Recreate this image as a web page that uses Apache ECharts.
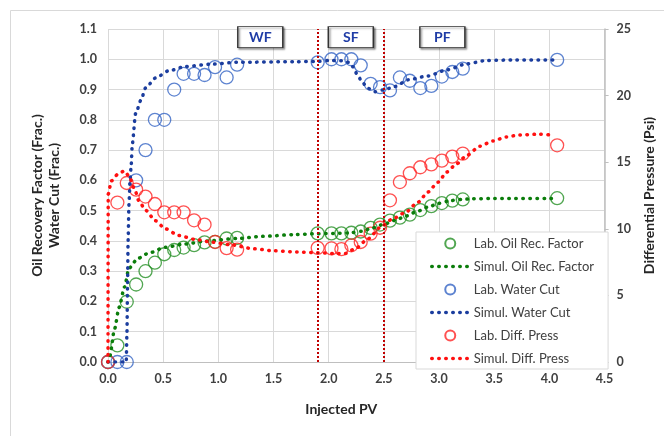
<!DOCTYPE html>
<html><head><meta charset="utf-8">
<script src="https://cdn.jsdelivr.net/npm/echarts@6/dist/echarts.min.js"></script>
<style>html,body{margin:0;padding:0;background:#fff}#c{width:664px;height:436px}</style>
</head><body><div id="c"></div>
<script>
// ---- Data ----
const seriesNames = ['Lab. Oil Rec. Factor','Simul. Oil Rec. Factor','Lab. Water Cut','Simul. Water Cut','Lab. Diff. Press','Simul. Diff. Press'];
const labPV  = [0, 0.085, 0.17, 0.255, 0.34, 0.425, 0.51, 0.6, 0.685, 0.78, 0.875, 0.97, 1.075, 1.17, 1.9, 2.025, 2.115, 2.205, 2.29, 2.38, 2.465, 2.555, 2.645, 2.735, 2.83, 2.93, 3.025, 3.12, 3.215, 4.07];
const labOil = [0, 0.055, 0.199, 0.256, 0.30, 0.328, 0.356, 0.37, 0.378, 0.386, 0.395, 0.397, 0.408, 0.41, 0.425, 0.425, 0.425, 0.427, 0.431, 0.443, 0.454, 0.467, 0.477, 0.487, 0.502, 0.515, 0.525, 0.533, 0.537, 0.541];
const labWC  = [0, 0, 0, 0.60, 0.70, 0.80, 0.80, 0.90, 0.952, 0.952, 0.948, 0.974, 0.94, 0.982, 0.99, 1.0, 1.0, 1.0, 0.98, 0.919, 0.908, 0.897, 0.94, 0.929, 0.905, 0.912, 0.943, 0.958, 0.969, 0.998];
const labDP  = [0, 11.97, 13.44, 12.94, 12.42, 11.86, 11.24, 11.24, 11.24, 10.64, 10.31, 9.01, 8.55, 8.44, 8.57, 8.53, 8.47, 8.76, 9.01, 9.64, 10.08, 12.14, 13.51, 14.17, 14.62, 14.84, 15.12, 15.42, 15.64, 16.27];

const simOilPV = [0, 0.015, 0.06, 0.10, 0.15, 0.19, 0.27, 0.37, 0.52, 0.70, 0.9, 1.17, 1.4, 1.7, 1.9, 2.1, 2.2, 2.3, 2.4, 2.5, 2.6, 2.7, 2.8, 2.9, 3.0, 3.1, 3.2, 3.3, 3.5, 4.05];
const simOil   = [0, 0.017, 0.11, 0.18, 0.248, 0.31, 0.342, 0.36, 0.379, 0.39, 0.40, 0.408, 0.415, 0.421, 0.424, 0.425, 0.427, 0.432, 0.443, 0.455, 0.468, 0.482, 0.497, 0.512, 0.524, 0.533, 0.537, 0.539, 0.54, 0.54];

const simWCPV = [0, 0.165, 0.172, 0.177, 0.182, 0.19, 0.2, 0.21, 0.22, 0.25, 0.3, 0.34, 0.43, 0.55, 0.7, 0.94, 1.17, 1.7, 1.9, 2.0, 2.12, 2.18, 2.22, 2.26, 2.3, 2.35, 2.42, 2.5, 2.6, 2.72, 2.9, 3.07, 3.25, 3.43, 3.7, 4.05];
const simWC   = [0, 0, 0.1, 0.25, 0.4, 0.52, 0.6, 0.65, 0.72, 0.82, 0.866, 0.905, 0.938, 0.962, 0.976, 0.984, 0.99, 0.992, 0.993, 0.996, 0.995, 0.99, 0.975, 0.949, 0.927, 0.905, 0.893, 0.899, 0.91, 0.932, 0.945, 0.965, 0.985, 0.996, 0.998, 0.998];

const simDPPV = [0, 0.002, 0.03, 0.09, 0.15, 0.19, 0.24, 0.28, 0.34, 0.43, 0.52, 0.64, 0.79, 0.94, 1.11, 1.32, 1.5, 1.71, 1.9, 2.05, 2.15, 2.24, 2.36, 2.466, 2.57, 2.69, 2.81, 2.9, 2.99, 3.07, 3.16, 3.25, 3.37, 3.49, 3.61, 3.73, 3.91, 4.04];
const simDP   = [0, 12.6, 13.6, 14.1, 14.35, 13.95, 13.0, 12.1, 11.4, 10.6, 10.0, 9.5, 9.2, 9.0, 8.8, 8.5, 8.35, 8.26, 8.2, 8.15, 8.15, 8.5, 9.26, 10.1, 10.7, 11.2, 12.0, 12.76, 13.5, 14.26, 14.89, 15.5, 16.2, 16.6, 16.9, 17.05, 17.1, 17.02];

const phaseBounds = [1.9, 2.5];
const phaseNames = ['WF', 'SF', 'PF'];
const phaseLabelAt = [[1.38, 1.073], [2.2, 1.073], [3.03, 1.073]];

const xTicks = {min: 0, max: 4.5, step: 0.5};
const yLeftTicks = {min: 0, max: 1.1, step: 0.1};
const yRightTicks = {min: 0, max: 25, step: 5};

// ---- Helpers ----
const zip = (xs, ys) => xs.map((x, i) => [x, ys[i]]);
const FONT = 'Lato, "Open Sans", sans-serif';
const C = {
  oilLab: '#259025', oilSim: '#0b7d0b',
  wcLab: '#3464c4', wcSim: '#1b3d9e',
  dpLab: '#ff2626', dpSim: '#ff1010',
  phase: '#c00000'
};
const dotted = (color) => ({color, width: 3.5, type: [0.5, 6.5], cap: 'round'});
const lab = (name, data, color, yIdx) => ({
  name, type: 'scatter', yAxisIndex: yIdx, data, symbol: 'circle', symbolSize: 13,
  itemStyle: {color: 'rgba(255,255,255,0)', borderColor: color, borderWidth: 1.3},
  emphasis: {disabled: true}, z: 3
});
const sim = (name, data, color, yIdx) => ({
  name, type: 'line', yAxisIndex: yIdx, data, symbol: 'none', showSymbol: false,
  smooth: 0.25, smoothMonotone: 'x',
  lineStyle: dotted(color), itemStyle: {color}, emphasis: {disabled: true}, z: 4
});

const axisLabel = {fontFamily: FONT, fontWeight: 'bold', fontSize: 12.5, color: '#404040'};

const option = {
  animation: false,
  backgroundColor: '#fff',
  graphic: [{
    type: 'rect', shape: {x: 10.5, y: 10.5, width: 700, height: 500},
    style: {fill: 'none', stroke: '#d9d9d9', lineWidth: 1}, z: -10, silent: true
  }],
  grid: {left: 108, right: 51, top: 29, bottom: 74},
  xAxis: {
    type: 'value', min: xTicks.min, max: xTicks.max, interval: xTicks.step,
    axisLine: {show: true, lineStyle: {color: '#bfbfbf'}},
    axisTick: {show: false},
    splitLine: {show: true, lineStyle: {color: '#d9d9d9', width: 1}},
    axisLabel: Object.assign({margin: 10, formatter: v => v.toFixed(1)}, axisLabel),
    name: 'Injected PV', nameLocation: 'middle', nameGap: 40,
    nameTextStyle: {fontFamily: FONT, fontWeight: 'bold', fontSize: 14, color: '#262626', padding: [0, 30, 0, 0]}
  },
  yAxis: [{
    type: 'value', min: yLeftTicks.min, max: yLeftTicks.max, interval: yLeftTicks.step,
    axisLine: {show: false}, axisTick: {show: false},
    splitLine: {show: true, lineStyle: {color: '#d9d9d9', width: 1}},
    axisLabel: Object.assign({margin: 11, formatter: v => v.toFixed(1)}, axisLabel),
    name: 'Oil Recovery Factor (Frac.)\nWater Cut (Frac.)', nameLocation: 'middle', nameRotate: 90, nameGap: 45,
    nameTextStyle: {fontFamily: FONT, fontWeight: 'bold', fontSize: 14, color: '#262626', lineHeight: 17, align: 'center'}
  }, {
    type: 'value', position: 'right', min: yRightTicks.min, max: yRightTicks.max, interval: yRightTicks.step,
    axisLine: {show: true, lineStyle: {color: '#bfbfbf', width: 1.5}},
    axisTick: {show: true, inside: false, length: 4, lineStyle: {color: '#bfbfbf'}},
    splitLine: {show: false},
    axisLabel: Object.assign({margin: 12}, axisLabel),
    name: 'Differential Pressure (Psi)', nameLocation: 'middle', nameRotate: 90, nameGap: 30,
    nameTextStyle: {fontFamily: FONT, fontWeight: 'bold', fontSize: 14, color: '#262626'}
  }],
  legend: {
    orient: 'vertical', left: 416, top: 232,
    backgroundColor: '#fff', borderColor: '#d9d9d9', borderWidth: 1,
    padding: [5, 14, 4, 14],
    itemWidth: 37, itemHeight: 10, itemGap: 10,
    lineStyle: {width: 3.5, cap: 'round', type: [0.5, 6.5]},
    textStyle: {fontFamily: FONT, fontSize: 13, color: '#404040'},
    data: seriesNames.map((n, i) => i % 2 === 1 ? {name: n, itemStyle: {opacity: 0}} : {name: n})
  },
  series: [
    lab(seriesNames[0], zip(labPV, labOil), C.oilLab, 0),
    sim(seriesNames[1], zip(simOilPV, simOil), C.oilSim, 0),
    lab(seriesNames[2], zip(labPV, labWC), C.wcLab, 0),
    Object.assign(sim(seriesNames[3], zip(simWCPV, simWC), C.wcSim, 0), {
      markPoint: {
        silent: true, symbol: 'rect', symbolSize: [45, 21],
        itemStyle: {color: '#fff', borderColor: '#333', borderWidth: 1,
          shadowColor: 'rgba(0,0,0,0.45)', shadowBlur: 2, shadowOffsetX: 1.5, shadowOffsetY: 1.5},
        label: {show: true, position: 'inside', formatter: '{b}', fontFamily: FONT, fontWeight: 'bold', fontSize: 14, color: '#1f3ca6'},
        data: phaseNames.map((n, i) => ({name: n, coord: phaseLabelAt[i]}))
      }
    }),
    lab(seriesNames[4], zip(labPV, labDP), C.dpLab, 1),
    Object.assign(sim(seriesNames[5], zip(simDPPV, simDP), C.dpSim, 1), {
      markLine: {
        silent: true, symbol: ['none', 'none'], label: {show: false},
        lineStyle: {color: C.phase, type: [2, 2], width: 2},
        data: phaseBounds.map(v => ({xAxis: v}))
      }
    })
  ]
};
echarts.init(document.getElementById('c'), null, {renderer: 'canvas'}).setOption(option);
</script>
</body></html>
